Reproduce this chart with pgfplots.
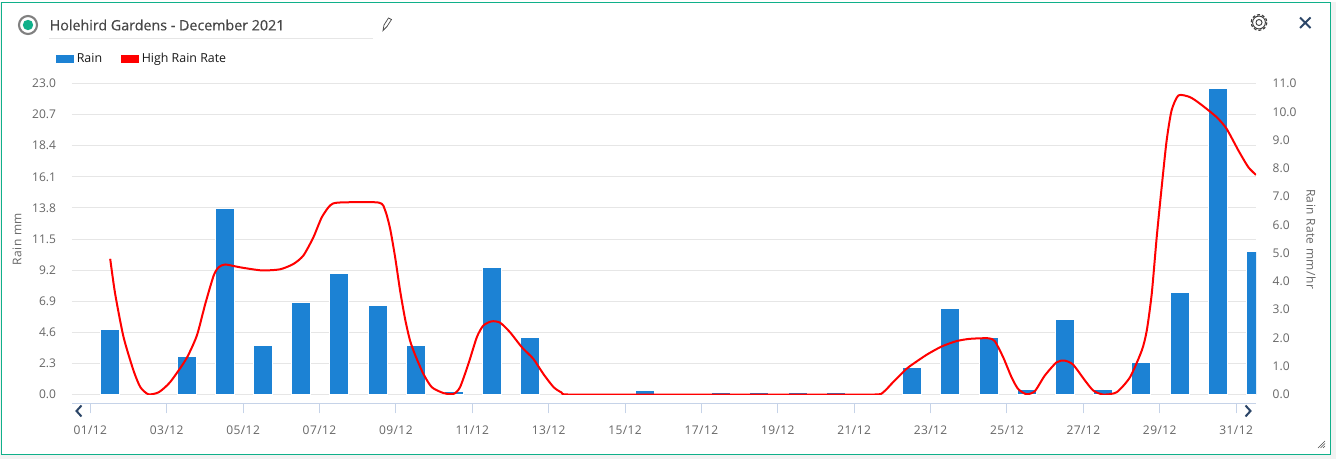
\documentclass[border=0pt]{standalone}
\usepackage{fontspec}
\usepackage{pgfplots}
\pgfplotsset{compat=1.18}
\setmainfont{Open Sans}
\newfontfamily\titlefont[FakeBold=0.4]{Open Sans}
\newfontfamily\spacedfont[LetterSpace=3.5]{Open Sans}
\definecolor{rainblue}{RGB}{28,130,212}
\definecolor{gridgray}{RGB}{230,230,230}
\definecolor{ticktext}{RGB}{102,102,102}
\definecolor{frameteal}{RGB}{16,176,138}
\definecolor{axisblue}{RGB}{198,211,232}
\definecolor{navy}{RGB}{44,70,104}

\begin{document}
\begin{tikzpicture}
    % page, card and header, in reference pixels
    \begin{scope}[x=0.75pt,y=-0.75pt]
    \useasboundingbox (0,0) rectangle (1336,459);
    \fill[black!5] (0,0) rectangle (1336,459);
    \fill[white] (0,0) rectangle (1336,2);
    \draw[frameteal,fill=white,line width=0.9pt] (1.5,2.5) rectangle (1330.5,454.5);
    \draw[gray,line width=1.6pt] (28,25) circle (9);
    \fill[frameteal] (28,25) circle (5.2);
    \node[anchor=west,inner sep=0pt,font=\titlefont\fontsize{10.7pt}{12pt}\selectfont,text=black!72] at (49.5,25) {Holehird Gardens - December 2021};
    \draw[gridgray,line width=0.7pt] (49,38.5) -- (373,38.5);
    \draw[black!70,line width=0.55pt] (383,30.5) -- (384,25) -- (388.5,18) -- (391.5,19.5) -- (387,26.5) -- cycle;
    \draw[black!75,line width=0.9pt,dash pattern=on 2.2pt off 1.5pt] (1259,22.5) circle (7.8);
    \draw[black!75,line width=0.7pt] (1259,22.5) circle (6.4);
    \draw[black!75,line width=0.7pt] (1259,22.5) circle (3);
    \draw[navy,line width=1.5pt] (1300,17.5) -- (1310.5,28) (1310.5,17.5) -- (1300,28);
    \draw[navy,line width=1.5pt] (81.5,405.5) -- (76.5,411) -- (81.5,416.5);
    \draw[navy,line width=1.5pt] (1245.5,405.5) -- (1250.5,411) -- (1245.5,416.5);
    \draw[black!70,line width=0.5pt] (1318,448) -- (1325,441) (1320.5,448) -- (1325,443.5) (1323,448) -- (1325,446);
    \end{scope}

    % rain bars on the left axis
    \begin{axis}[
            at={(54pt,-295.9pt)},
            anchor=south west,
            scale only axis,
            width=888pt,
            height=233.25pt,
            xmin=0, xmax=31,
            ymin=0, ymax=23,
            xtick=\empty,
            ytick={0,2.3,4.6,6.9,9.2,11.5,13.8,16.1,18.4,20.7,23},
            ymajorgrids,
            y grid style={gridgray,line width=0.75pt},
            axis line style={draw=none},
            major tick length=0pt,
            tick style={draw=none},
            y tick label style={
                    font=\fontsize{9pt}{10pt}\selectfont,
                    text=ticktext,
                    xshift=-8.5pt,
                    /pgf/number format/assume math mode=true,
                    /pgf/number format/fixed,
                    /pgf/number format/fixed zerofill,
                    /pgf/number format/precision=1
                },
            ylabel={Rain mm},
            every axis y label/.style={
                    at={(axis description cs:-0.0465,0.5)},
                    rotate=90,
                    anchor=center,
                    font=\spacedfont\fontsize{9pt}{10pt}\selectfont,
                    text=ticktext
                },
        ]
        \addplot [ybar, bar width=14.25pt, bar shift=0pt, fill=rainblue, draw=white, line width=0.75pt]
        coordinates {
                (1,4.78) (3,2.79) (4,13.73) (5,3.6) (6,6.78) (7,8.93) (8,6.55)
                (9,3.6) (10,0.2) (11,9.37) (12,4.19) (15,0.33) (17,0.18)
                (18,0.18) (19,0.18) (20,0.18) (22,1.97) (23,6.34) (24,4.19)
                (25,0.35) (26,5.52) (27,0.35) (28,2.35) (29,7.52) (30,22.65) (31,10.55)
            };
    \end{axis}

    % date axis sits 10 px under the plot
    \begin{axis}[
            at={(54pt,-303pt)},
            anchor=south west,
            scale only axis,
            width=888pt,
            height=1pt,
            xmin=0, xmax=31,
            ymin=0, ymax=1,
            axis y line=none,
            axis x line*=bottom,
            axis line style={draw=axisblue,line width=0.75pt,-},
            xtick={0.48,2.48,4.48,6.48,8.48,10.48,12.48,14.48,16.48,18.48,20.48,22.48,24.48,26.48,28.48,30.48},
            xticklabels={01/12,03/12,05/12,07/12,09/12,11/12,13/12,15/12,17/12,19/12,21/12,23/12,25/12,27/12,29/12,31/12},
            tick align=outside,
            major tick length=7pt,
            tick style={draw=axisblue,line width=0.75pt},
            x tick label style={
                    font=\spacedfont\fontsize{9pt}{10pt}\selectfont,
                    text=ticktext,
                    yshift=-5.5pt
                },
        ]
    \end{axis}

    % high rain rate on the right axis
    \begin{axis}[
            at={(54pt,-295.9pt)},
            anchor=south west,
            scale only axis,
            width=888pt,
            height=233.25pt,
            xmin=0, xmax=31,
            ymin=0, ymax=11,
            axis x line=none,
            axis y line*=right,
            axis line style={draw=none},
            ytick={0,1,2,3,4,5,6,7,8,9,10,11},
            major tick length=0pt,
            tick style={draw=none},
            y tick label style={
                    font=\fontsize{9pt}{10pt}\selectfont,
                    text=ticktext,
                    xshift=9pt,
                    /pgf/number format/assume math mode=true,
                    /pgf/number format/fixed,
                    /pgf/number format/fixed zerofill,
                    /pgf/number format/precision=1
                },
            ylabel={Rain Rate mm/hr},
            every axis y label/.style={
                    at={(axis description cs:1.0465,0.5)},
                    rotate=-90,
                    anchor=center,
                    font=\spacedfont\fontsize{9pt}{10pt}\selectfont,
                    text=ticktext
                },
            legend columns=2,
            legend image code/.code={\fill[#1,draw=none] (0pt,-3pt) rectangle (13.5pt,3pt);},
            legend style={
                    draw=none, fill=none,
                    at={(axis description cs:-0.0136,1.0785)},
                    anchor=west,
                    inner sep=0pt,
                    font=\fontsize{9.3pt}{11pt}\selectfont,
                    text=black!90,
                    nodes={inner xsep=2pt, inner ysep=0pt},
                    /tikz/every even column/.append style={column sep=12.25pt}
                },
            legend cell align={left},
        ]
        \addlegendimage{color=rainblue}
        \addlegendentry{Rain}
        \addplot [color=red, line width=1.5pt, smooth, tension=0.4, line join=round]
        table {%
                1.00 4.80
                1.13 3.56
                1.35 2.03
                1.61 0.85
                1.79 0.26
                2.00 0.01
                2.27 0.08
                2.57 0.44
                2.99 1.26
                3.27 2.09
                3.49 3.21
                3.71 4.21
                3.84 4.50
                4.01 4.60
                4.40 4.50
                4.97 4.39
                5.45 4.43
                5.80 4.62
                6.06 4.92
                6.32 5.56
                6.54 6.27
                6.76 6.69
                6.98 6.79
                8.03 6.79
                8.20 6.51
                8.33 5.86
                8.46 4.86
                8.59 3.68
                8.72 2.68
                8.85 1.91
                8.99 1.38
                9.20 0.73
                9.42 0.26
                9.73 0.05
                9.99 0.02
                10.16 0.26
                10.38 1.09
                10.60 2.03
                10.77 2.44
                10.99 2.59
                11.21 2.54
                11.47 2.20
                11.78 1.67
                12.08 1.26
                12.34 0.73
                12.61 0.26
                12.82 0.07
                13.00 0.00
                15.00 0.00
                17.00 0.00
                19.00 0.00
                21.00 0.00
                21.24 0.08
                21.50 0.44
                21.85 0.91
                22.03 1.09
                22.38 1.41
                22.77 1.70
                23.16 1.89
                23.51 1.97
                23.99 1.99
                24.16 1.89
                24.38 1.32
                24.60 0.61
                24.77 0.20
                24.99 0.01
                25.21 0.12
                25.47 0.67
                25.78 1.14
                25.99 1.20
                26.21 1.06
                26.52 0.50
                26.74 0.14
                27.00 0.00
                27.35 0.08
                27.70 0.61
                28.01 1.56
                28.14 2.26
                28.27 3.56
                28.40 5.56
                28.53 7.33
                28.66 8.98
                28.79 10.05
                28.97 10.58
                29.27 10.52
                29.54 10.28
                29.97 9.81
                30.23 9.40
                30.54 8.63
                30.80 8.04
                31.00 7.77
            };
        \addlegendentry{High Rain Rate}
    \end{axis}
\end{tikzpicture}
\end{document}
